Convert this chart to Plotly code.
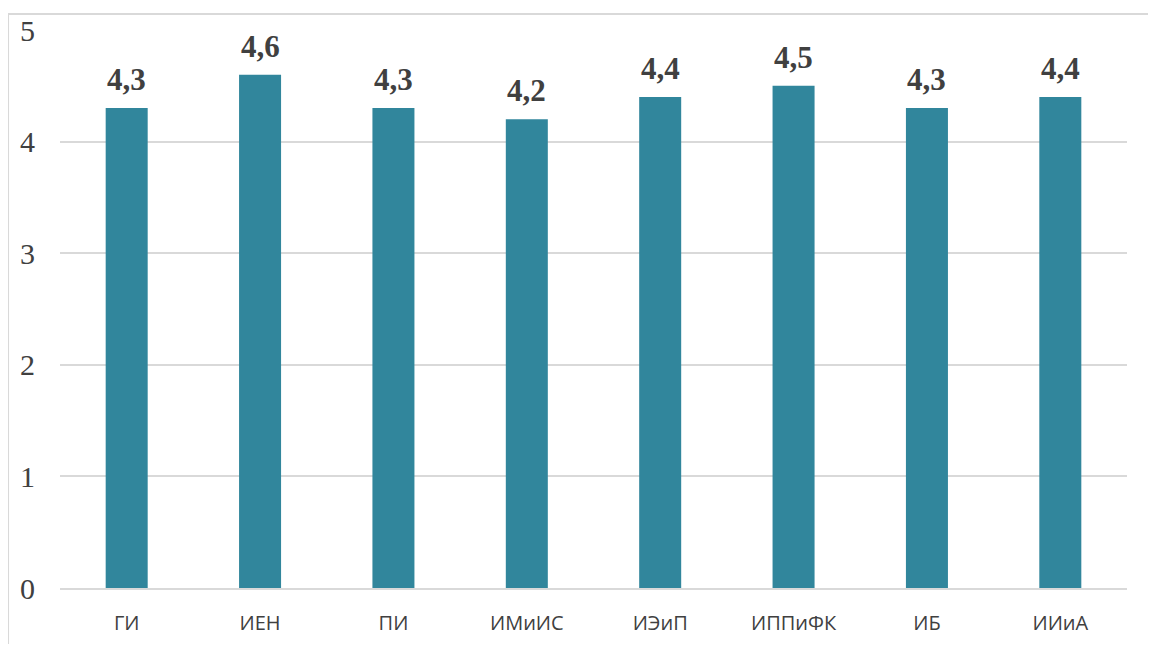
import plotly.graph_objects as go

categories = ["ГИ", "ИЕН", "ПИ", "ИМиИС", "ИЭиП", "ИППиФК", "ИБ", "ИИиА"]
values = [4.3, 4.6, 4.3, 4.2, 4.4, 4.5, 4.3, 4.4]
labels = ["4,3", "4,6", "4,3", "4,2", "4,4", "4,5", "4,3", "4,4"]
y_ticks = [0, 1, 2, 3, 4, 5]

SERIF = "Liberation Serif, Times New Roman, serif"

fig = go.Figure()
fig.add_trace(go.Bar(
    x=categories, y=values,
    marker=dict(color="#31869C", line=dict(width=0)),
    hoverinfo="skip",
))

for c, v, t in zip(categories, values, labels):
    fig.add_annotation(
        x=c, y=v, text="<b>" + t + "</b>", showarrow=False, yanchor="bottom", yshift=9,
        font=dict(family=SERIF, size=31, color="#404040"),
    )

fig.add_shape(type="rect", xref="paper", yref="paper",
              x0=-0.0487, x1=1.2, y0=-0.3, y1=1.0287,
              line=dict(color="#D9D9D9", width=2), layer="below")

fig.update_layout(
    width=1140, height=636,
    margin=dict(l=52, r=21, t=22, b=56, autoexpand=False),
    paper_bgcolor="white", plot_bgcolor="white",
    bargap=0.685,
    showlegend=False,
    xaxis=dict(
        automargin=False,
        showgrid=False, showline=True, linecolor="#D9D9D9", linewidth=2,
        tickfont=dict(family="Open Sans", size=20, color="#404040"),
        ticks="", ticklabelstandoff=16,
    ),
    yaxis=dict(
        automargin=False,
        range=[0, 5], tickvals=y_ticks, ticktext=[str(v) for v in y_ticks],
        showgrid=True, gridcolor="#D9D9D9", gridwidth=2,
        zeroline=False, showline=False,
        tickfont=dict(family=SERIF, size=30, color="#404040"),
        ticks="", ticklabelstandoff=24,
    ),
)

fig.write_html("out.html")
